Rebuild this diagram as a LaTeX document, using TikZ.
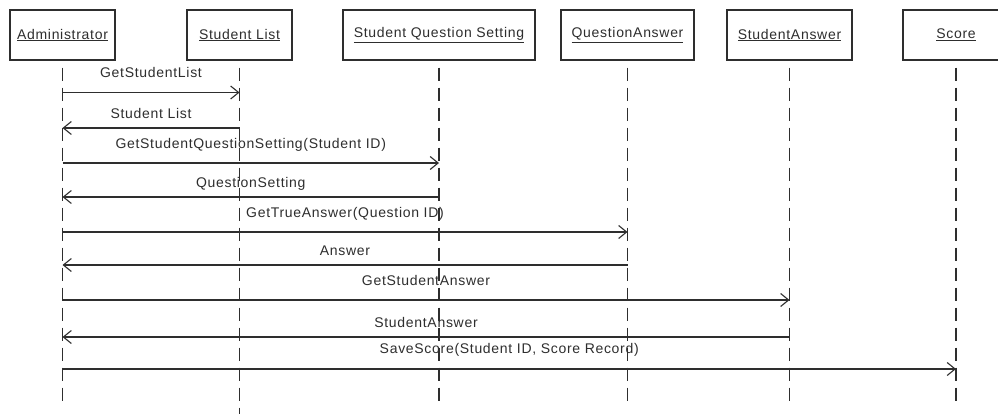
\documentclass[tikz,border=0pt]{standalone}
\usepackage{fontspec}
\usetikzlibrary{arrows.meta}
\newfontfamily\seqfont{Liberation Sans}[LetterSpace=5]
\definecolor{ink}{HTML}{2E2E2E}
\tikzset{
  actor/.style={draw=ink, line width=1.3pt, minimum height=50pt, inner sep=0pt,
    font=\seqfont\fontsize{14}{16}\selectfont, text=ink},
  lifeline/.style={draw=ink, line width=1.4pt, dash pattern=on 13pt off 7pt, dash phase=13pt},
  msg/.style={draw=ink, line width=1.1pt, -{Straight Barb[length=8pt,width=13pt,line width=1.1pt]}},
  lbl/.style={font=\seqfont\fontsize{14}{16}\selectfont, text=ink, inner sep=0pt, anchor=base},
  fwd/.style={lbl, yshift=14.5pt},
  ret/.style={lbl, yshift=9.5pt}
}
\begin{document}
\begin{tikzpicture}[x=1pt,y=-1pt]
\useasboundingbox (0,0) rectangle (998,414);
\fill[white] (0,0) rectangle (998,414);

% participants
\node[actor, minimum width=105pt] (adm) at (62.5,35) {\underline{Administrator}};
\node[actor, minimum width=105pt] (sl)  at (239.5,35) {\underline{Student List}};
\node[actor, minimum width=192pt] (sqs) at (439,35) {\underline{Student Question Setting}};
\node[actor, minimum width=133pt] (qa)  at (627.5,35) {\underline{QuestionAnswer}};
\node[actor, minimum width=125pt] (sa)  at (789.5,35) {\underline{StudentAnswer}};
\node[actor, minimum width=106pt] (sc)  at (956,35) {\underline{Score}};

% lifeline ends
\coordinate (end) at (0,404);
\coordinate (endlong) at (0,416);
\draw[lifeline] (adm.south) -- (adm |- end);
\draw[lifeline] (sl.south)  -- (sl |- endlong);
\draw[lifeline] (sqs.south) -- (sqs |- end);
\draw[lifeline] (qa.south)  -- (qa |- end);
\draw[lifeline] (sa.south)  -- (sa |- end);
\draw[lifeline] (sc.south)  -- (sc |- end);

% message rows
\coordinate (r1) at (0,92.5);
\coordinate (r2) at (0,128);
\coordinate (r3) at (0,163);
\coordinate (r4) at (0,197);
\coordinate (r5) at (0,232);
\coordinate (r6) at (0,265);
\coordinate (r7) at (0,300);
\coordinate (r8) at (0,337);
\coordinate (r9) at (0,369);

\draw[msg] (adm |- r1) -- node[fwd] {GetStudentList} (sl |- r1);
\draw[msg] (sl |- r2) -- node[ret] {Student List} (adm |- r2);
\draw[msg] (adm |- r3) -- node[fwd] {GetStudentQuestionSetting(Student ID)} (sqs |- r3);
\draw[msg] (sqs |- r4) -- node[ret] {QuestionSetting} (adm |- r4);
\draw[msg] (adm |- r5) -- node[fwd] {GetTrueAnswer(Question ID)} (qa |- r5);
\draw[msg] (qa |- r6) -- node[ret] {Answer} (adm |- r6);
\draw[msg] (adm |- r7) -- node[fwd] {GetStudentAnswer} (sa |- r7);
\draw[msg] (sa |- r8) -- node[ret] {StudentAnswer} (adm |- r8);
\draw[msg] (adm |- r9) -- node[fwd, yshift=1pt] {SaveScore(Student ID, Score Record)} (sc |- r9);
\end{tikzpicture}
\end{document}
